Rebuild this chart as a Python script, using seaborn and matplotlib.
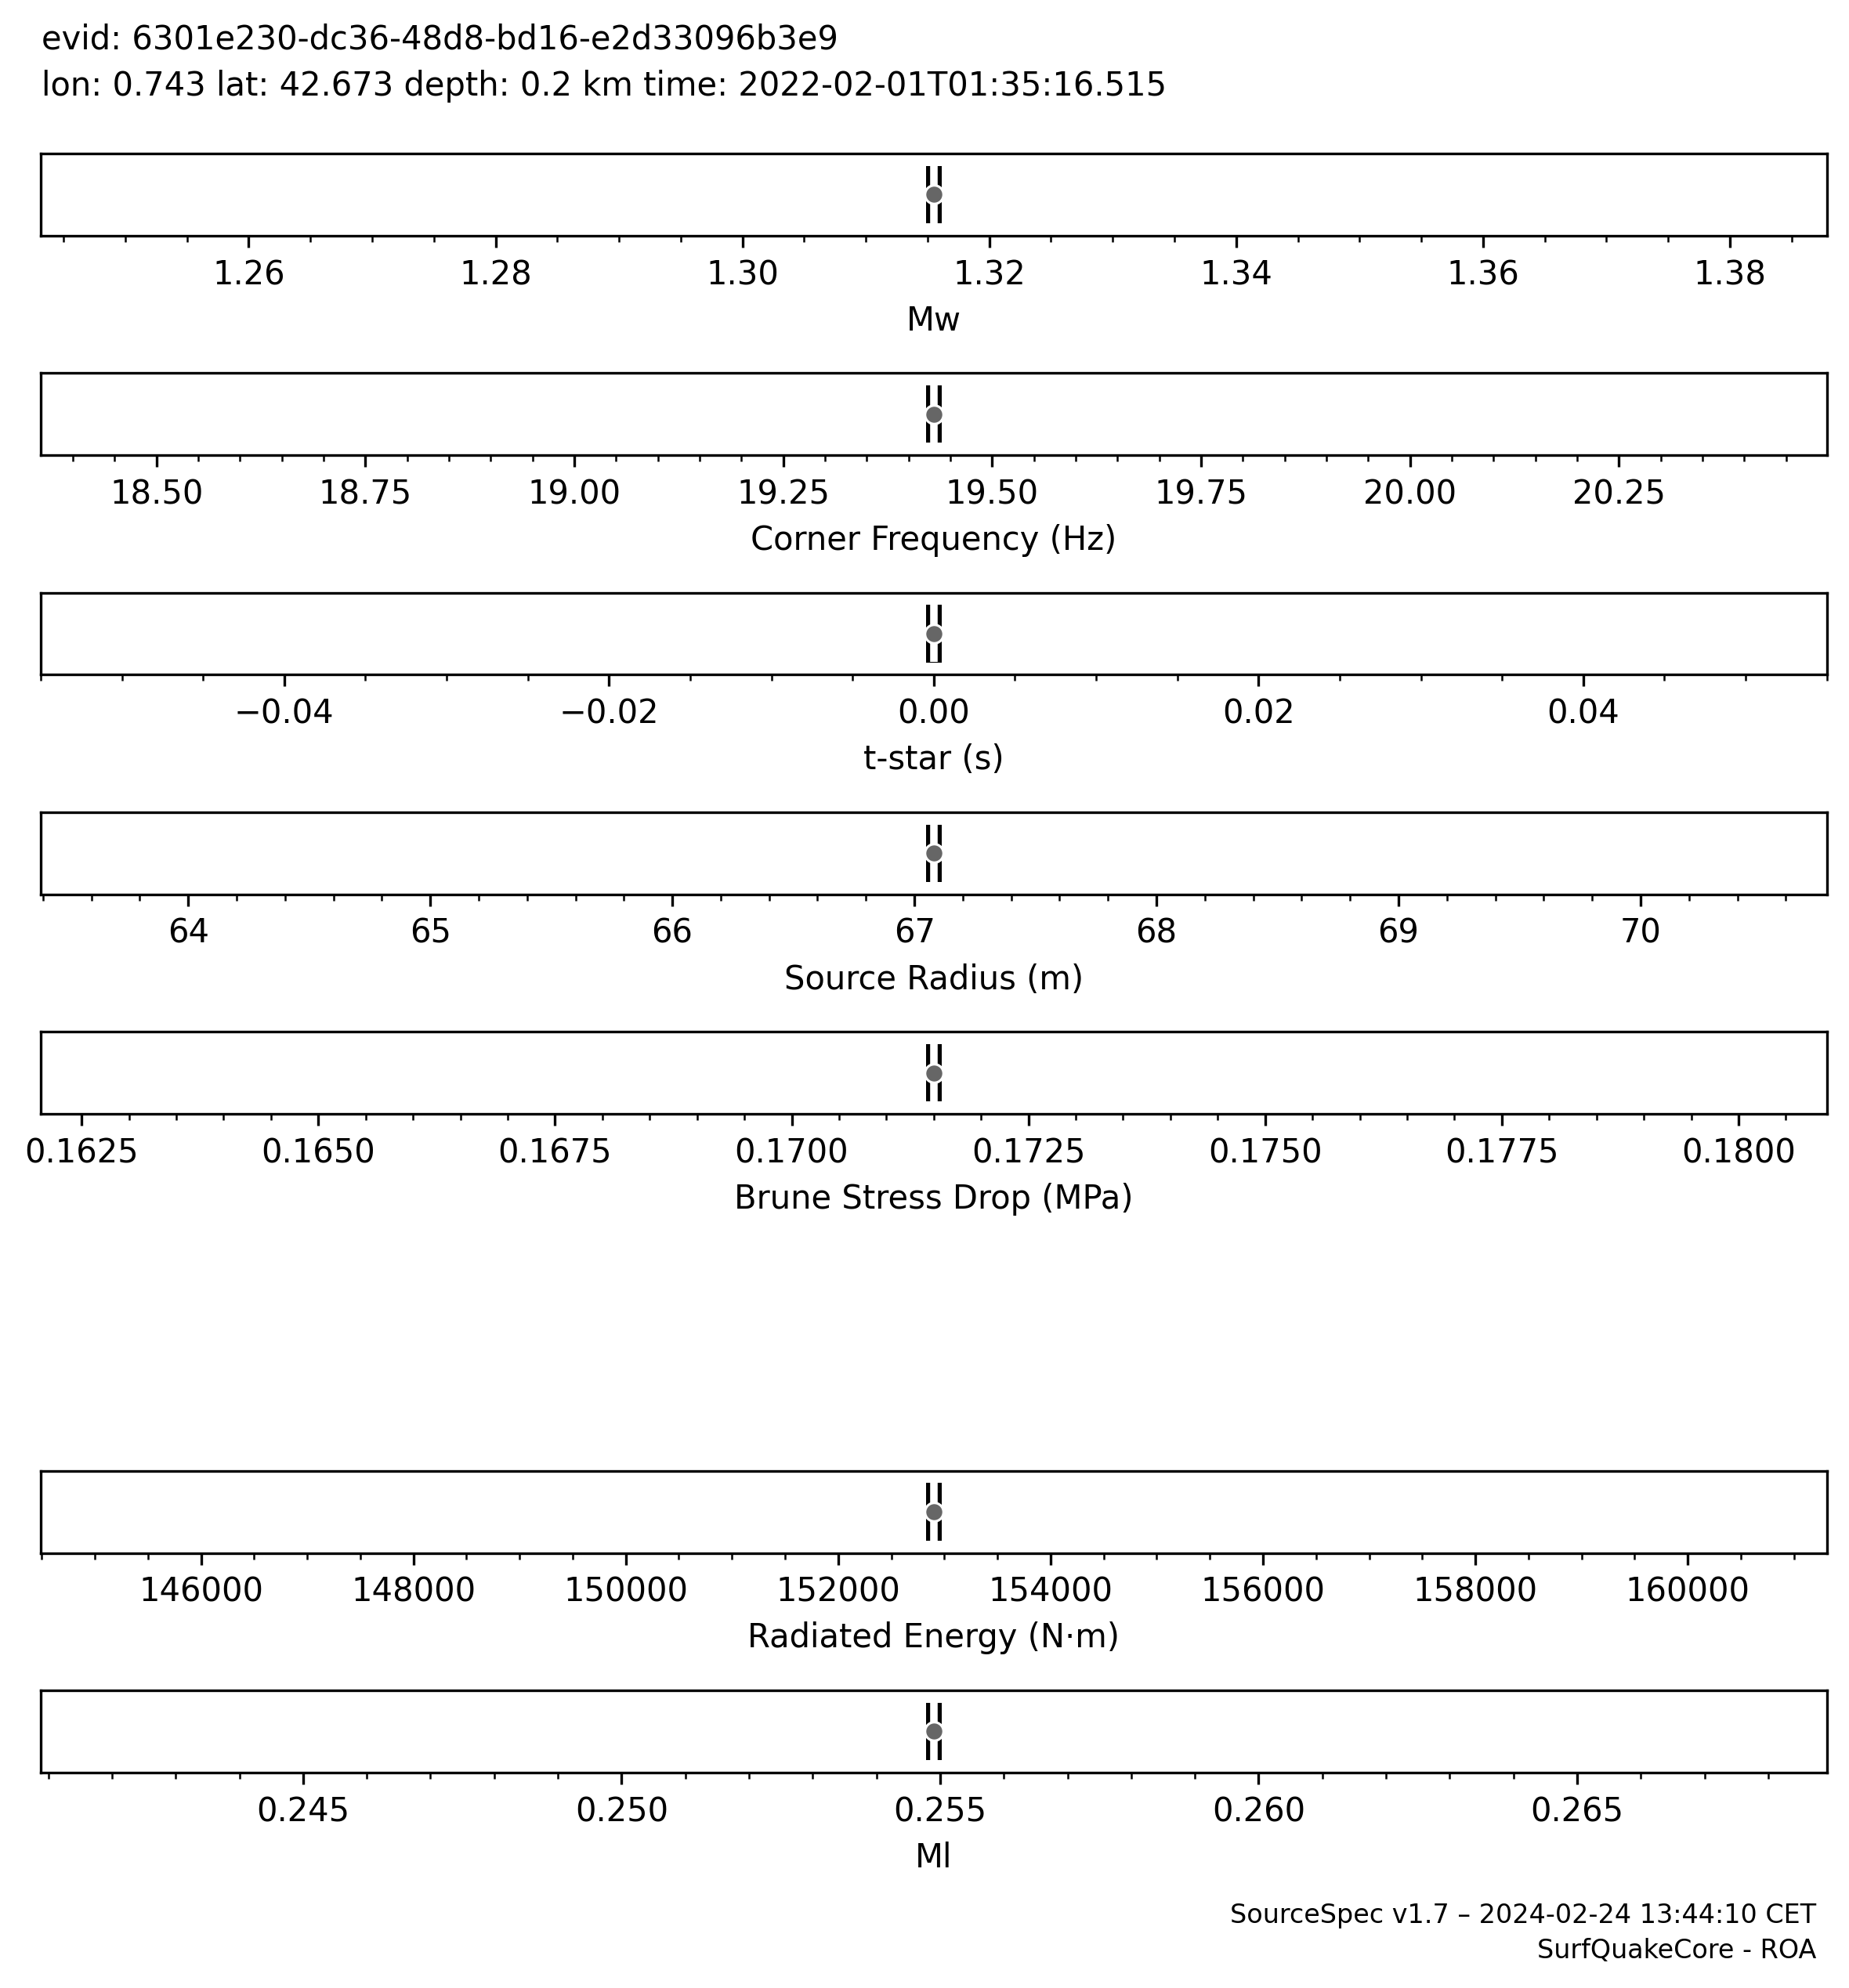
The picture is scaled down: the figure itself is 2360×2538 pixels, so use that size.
import numpy as np
import matplotlib
matplotlib.use("Agg")
import matplotlib.pyplot as plt
import seaborn as sns

# ---------------------------
# Event summary values
# ---------------------------
evid = "6301e230-dc36-48d8-bd16-e2d33096b3e9"
lon, lat, depth = 0.743, 42.673, 0.2
origin_time = "2022-02-01T01:35:16.515"

param_labels = ["Mw", "Corner Frequency (Hz)", "t-star (s)", "Source Radius (m)",
                "Brune Stress Drop (MPa)", None, "Radiated Energy (N\u00b7m)", "Ml"]
param_values = [1.3155, 19.43, 0.0, 67.08, 0.1715, None, 152900.0, 0.2549]

footer_lines = ["SourceSpec v1.7 \u2013 2024-02-24 13:44:10 CET", "SurfQuakeCore - ROA"]

dot_color = "#666666"


def value_limits(v):
    # same as matplotlib autoscale on a single value (5% expansion + 5% margin)
    if v == 0:
        return -0.055, 0.055
    d = 0.055 * abs(v)
    return v - d, v + d


fig, axes = plt.subplots(8, 1, figsize=(2360 / 300, 2538 / 300), dpi=300)
fig.subplots_adjust(left=0.022, right=0.988, top=0.9228, bottom=0.1084, hspace=1.671)

for ax, label, val in zip(axes, param_labels, param_values):
    if label is None:
        # empty slot (parameter not available)
        ax.set_visible(False)
        continue
    ax.axvline(val, ymin=0.15, ymax=0.85, color="black", lw=4.8,
               solid_capstyle="butt", zorder=2)
    ax.axvline(val, ymin=0.153, ymax=0.85, color="white", lw=2.3,
               solid_capstyle="butt", zorder=3)
    sns.scatterplot(x=[val], y=[1.0], ax=ax, s=32, color=dot_color,
                    edgecolor="white", linewidth=0.75, zorder=4)
    ax.set_ylim(0.5, 1.5)
    ax.set_xlim(*value_limits(val))
    ax.set_yticks([])
    ax.set_ylabel("")
    ax.minorticks_on()
    ax.tick_params(axis="y", which="both", left=False)
    ax.set_xlabel(label, fontsize=10)
    ax.tick_params(axis="x", labelsize=10)

fig.text(0.0225, 0.9752, f"evid: {evid}", fontsize=10, ha="left", va="baseline")
fig.text(0.0225, 0.9519,
         f"lon: {lon:.3f} lat: {lat:.3f} depth: {depth:.1f} km time: {origin_time}",
         fontsize=10, ha="left", va="baseline")

fig.text(0.9822, 0.0327, footer_lines[0], fontsize=8, ha="right", va="baseline")
fig.text(0.9822, 0.0150, footer_lines[1], fontsize=8, ha="right", va="baseline")

fig.savefig("out.png", dpi=300)
plt.close(fig)
